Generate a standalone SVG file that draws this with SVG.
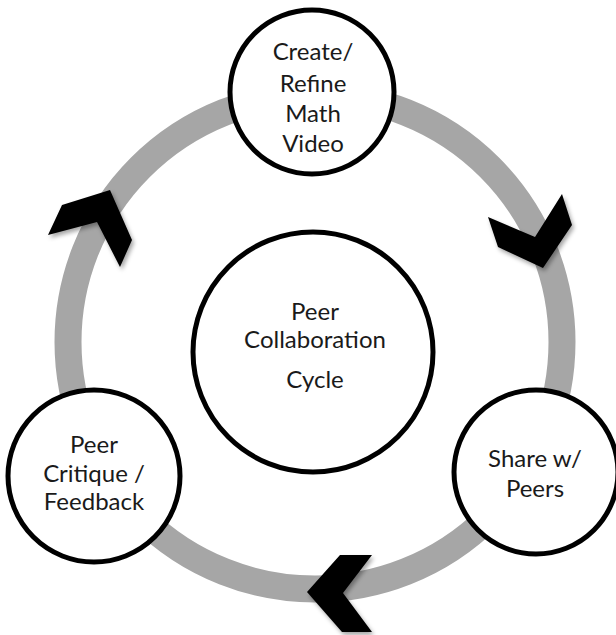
<svg xmlns="http://www.w3.org/2000/svg" width="616" height="635" viewBox="0 0 616 635">
  <style>
    .ring { fill: none; stroke: #a6a6a6; stroke-width: 27; }
    .node { fill: #ffffff; stroke: #000000; stroke-width: 5; }
    .chev { fill: #000000; filter: url(#shadow); }
    .lbl { font-family: "Lato", "Liberation Sans", sans-serif; font-size: 24px; fill: #1a1a1a; text-anchor: middle; }
  </style>
  <defs>
    <filter id="shadow" x="-30%" y="-30%" width="160%" height="160%">
      <feDropShadow dx="2" dy="3" stdDeviation="2" flood-color="#000000" flood-opacity="0.35"/>
    </filter>
  </defs>

  <!-- cycle ring and direction chevrons -->
  <g id="connectors">
    <circle class="ring" cx="315" cy="342" r="247"/>
    <polygon class="chev" points="110,190 62,205 48,235 97,222 120,267 132,240"/>
    <polygon class="chev" points="488,217 535,237 562,194 572,225 543,268 498,247"/>
    <polygon class="chev" points="307,592 340,555 372,555 343,593 372,632 342,632"/>
  </g>

  <g id="center">
    <circle class="node" cx="313" cy="352" r="120"/>
    <text class="lbl" x="315" y="320">Peer</text>
    <text class="lbl" x="315" y="348">Collaboration</text>
    <text class="lbl" x="315" y="388">Cycle</text>
  </g>

  <g id="create">
    <circle class="node" cx="312" cy="92" r="82"/>
    <text class="lbl" x="313" y="60">Create/</text>
    <text class="lbl" x="313" y="92">Refine</text>
    <text class="lbl" x="313" y="122">Math</text>
    <text class="lbl" x="313" y="152">Video</text>
  </g>

  <g id="share">
    <circle class="node" cx="536" cy="472" r="82"/>
    <text class="lbl" x="535" y="467">Share w/</text>
    <text class="lbl" x="535" y="497">Peers</text>
  </g>

  <g id="critique">
    <circle class="node" cx="94" cy="476" r="86"/>
    <text class="lbl" x="94" y="453">Peer</text>
    <text class="lbl" x="94" y="482">Critique /</text>
    <text class="lbl" x="94" y="510">Feedback</text>
  </g>
</svg>
